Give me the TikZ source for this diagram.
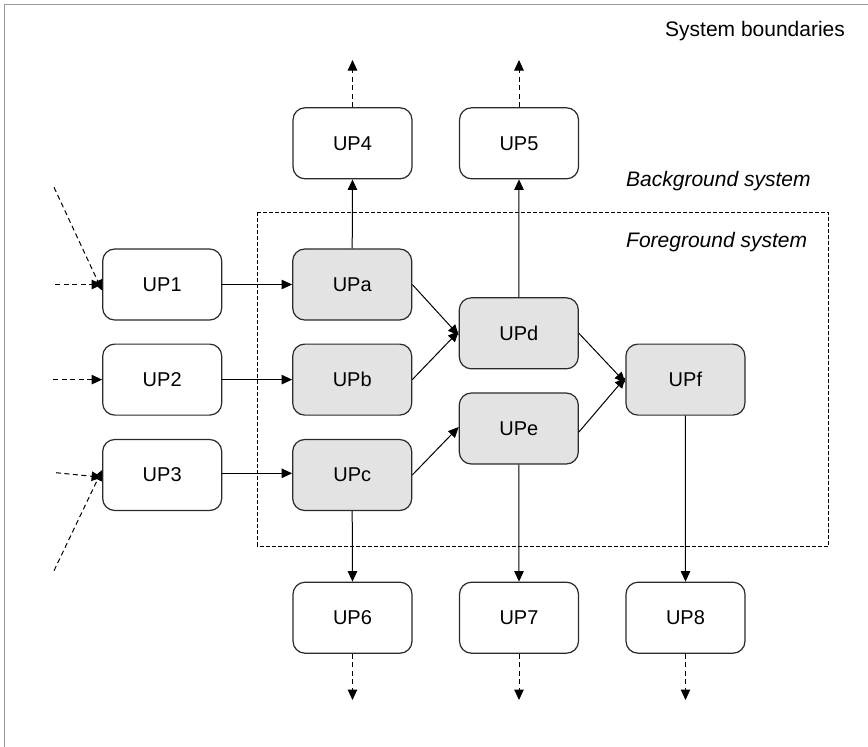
\documentclass[tikz,border=0pt]{standalone}
\usepackage{fontspec}
\setmainfont{Liberation Sans}
\usetikzlibrary{arrows.meta}
\definecolor{fgfill}{HTML}{E3E3E3}
\definecolor{edge}{HTML}{2A2A2A}
\definecolor{frame}{HTML}{9A9A9A}
\tikzset{
  upbox/.style={draw=edge, line width=1.2pt, rounded corners=12pt, minimum width=119pt, minimum height=71pt, inner sep=0pt, font=\fontsize{20}{24}\selectfont, fill=white},
  fgbox/.style={upbox, fill=fgfill},
  flow/.style={draw=black, line width=1pt, -{Triangle[length=10.5pt,width=9.5pt]}},
  ext/.style={flow, dash pattern=on 5pt off 3.5pt},
  lbl/.style={font=\fontsize{21}{25}\selectfont, inner sep=0pt},
}
\begin{document}
\begin{tikzpicture}[x=1pt,y=-1pt]
\useasboundingbox (0,0) rectangle (868,747);
\clip (0,0) rectangle (868,747);
% system boundary frame
\draw[frame, line width=1.6pt] (4.5,4.5) rectangle (880,760);
% foreground boundary
\draw[black, line width=1pt, dash pattern=on 4pt off 2pt] (257.3,212.3) rectangle (828.3,546);

\node[lbl, anchor=base west] (sb) at (665,36.3) {System boundaries};
\node[lbl, anchor=base west] (bg) at (626,186.3) {\itshape Background system};
\node[lbl, anchor=base west] (fg) at (626,247) {\itshape Foreground system};

% background boxes
\node[upbox] (up1) at (162.2,284.5) {UP1};
\node[upbox] (up2) at (162.2,379.6) {UP2};
\node[upbox] (up3) at (162.2,475) {UP3};
\node[upbox] (up4) at (352.5,143.3) {UP4};
\node[upbox] (up5) at (519,143.3) {UP5};
\node[upbox] (up6) at (352.5,617.7) {UP6};
\node[upbox] (up7) at (519,617.7) {UP7};
\node[upbox] (up8) at (685.5,617.7) {UP8};
% foreground boxes
\node[fgbox] (upa) at (352.2,284.5) {UPa};
\node[fgbox] (upb) at (352.2,379.6) {UPb};
\node[fgbox] (upc) at (352.2,475) {UPc};
\node[fgbox] (upd) at (518.8,333.3) {UPd};
\node[fgbox] (upe) at (518.8,428.5) {UPe};
\node[fgbox] (upf) at (685.4,379.6) {UPf};

% free ends
\coordinate (in1h) at (55,284.5);
\coordinate (in1d) at (54,187.3);
\coordinate (in2h) at (53.3,379.6);
\coordinate (in3h) at (56,472.7);
\coordinate (in3d) at (54,570.7);
\coordinate (out4) at (352.5,60);
\coordinate (out5) at (519,60);
\coordinate (out6) at (352.5,700);
\coordinate (out7) at (519,700);
\coordinate (out8) at (685.5,700);

% inputs
\draw[ext] (in1h) -- (up1.west);
\draw[ext] (in1d) -- ([yshift=-6pt]up1.west);
\draw[ext] (in2h) -- (up2.west);
\draw[ext] (in3h) -- ([yshift=-2.3pt]up3.west);
\draw[ext] (in3d) -- ([yshift=5pt]up3.west);

% outputs
\draw[ext] (up4.north) -- (out4);
\draw[ext] (up5.north) -- (out5);
\draw[ext] (up6.south) -- (out6);
\draw[ext] (up7.south) -- (out7);
\draw[ext] (up8.south) -- (out8);

% flows
\draw[flow] (up1.east) -- (upa.west);
\draw[flow] (up2.east) -- (upb.west);
\draw[flow] ([yshift=1.7pt]up3.east) -- ([yshift=1.7pt]upc.west);
\draw[flow] (upa.east) -- ([yshift=-2pt]upd.west);
\draw[flow] (upb.east) -- ([yshift=2pt]upd.west);
\draw[flow] (upc.east) -- ([yshift=1.5pt]upe.west);
\draw[flow] (upd.east) -- ([yshift=-3pt]upf.west);
\draw[flow] ([yshift=-3.5pt]upe.east) -- ([yshift=2pt]upf.west);
\draw[flow] (upa.north) -- (up4.south);
\draw[flow] (upd.north) -- (up5.south);
\draw[flow] (upc.south) -- (up6.north);
\draw[flow] (upe.south) -- (up7.north);
\draw[flow] (upf.south) -- (up8.north);
\end{tikzpicture}
\end{document}
